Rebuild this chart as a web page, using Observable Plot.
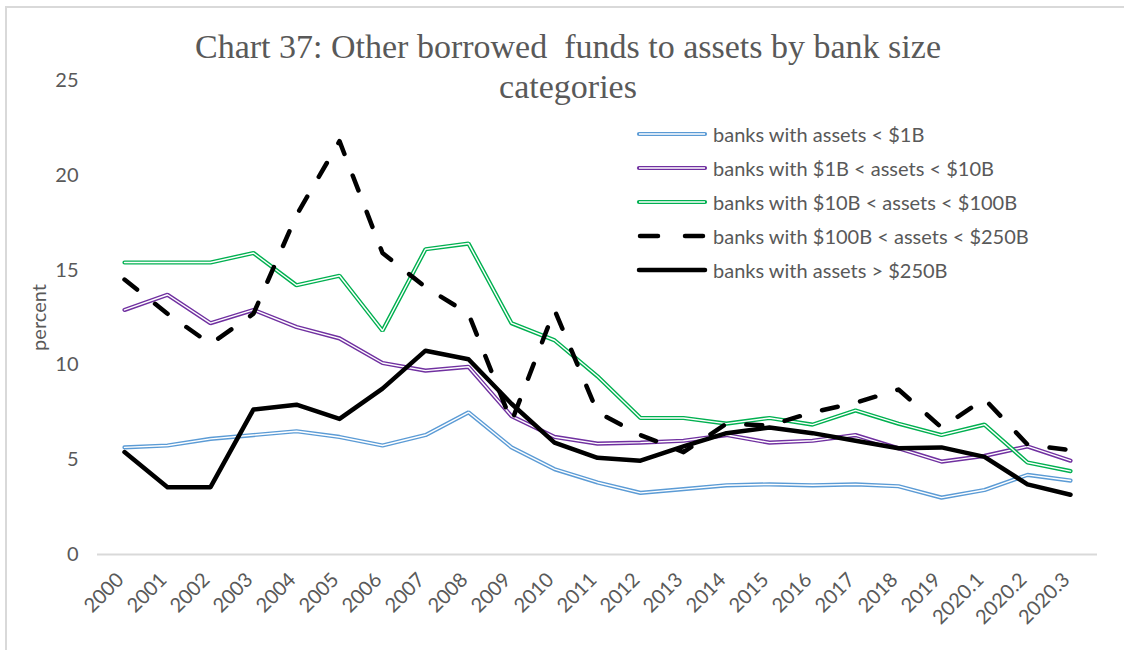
<!DOCTYPE html>
<html>
<head>
<meta charset="utf-8">
<script src="https://cdn.jsdelivr.net/npm/d3@7"></script>
<script src="https://cdn.jsdelivr.net/npm/@observablehq/plot@0.6"></script>
<style>
  html, body { margin: 0; padding: 0; background: #fff; }
  #wrap { position: relative; width: 1124px; height: 650px; overflow: hidden; }
  #frame { position: absolute; left: 5px; top: 6px; width: 1200px; height: 700px;
           border-left: 2px solid #d9d9d9; border-top: 2px solid #d9d9d9; }
  #title { position: absolute; left: 0; width: 1136px; top: 27px; text-align: center;
           font-family: "Liberation Serif", "Times New Roman", serif; font-size: 34px;
           line-height: 40px; color: #595959; white-space: pre; }
  #legend { position: absolute; left: 636px; top: 117px; font-family: Lato, "Noto Sans", sans-serif;
            font-size: 20px; color: #595959; }
  .row { height: 34px; display: flex; align-items: center; }
  .row svg { margin-right: 5px; }
  #chart { position: absolute; left: 0; top: 0; }
</style>
</head>
<body>
<div id="wrap">
  <div id="chart"></div>
  <div id="frame"></div>
  <div id="title">Chart 37: Other borrowed  funds to assets by bank size
categories</div>
  <div id="legend"></div>
</div>
<script>
const categories = ["2000","2001","2002","2003","2004","2005","2006","2007","2008","2009","2010","2011","2012","2013","2014","2015","2016","2017","2018","2019","2020.1","2020.2","2020.3"];

const seriesNames = [
  "banks with assets < $1B",
  "banks with $1B < assets < $10B",
  "banks with $10B < assets < $100B",
  "banks with $100B < assets < $250B",
  "banks with assets > $250B"
];

const under1B   = [5.65,5.75,6.1,6.3,6.5,6.2,5.75,6.3,7.5,5.65,4.5,3.8,3.25,3.45,3.65,3.7,3.65,3.7,3.6,3.0,3.4,4.2,3.9];
const b1to10    = [12.9,13.7,12.2,12.9,12.0,11.4,10.1,9.7,9.9,7.3,6.2,5.85,5.9,6.0,6.3,5.9,6.0,6.3,5.6,4.9,5.2,5.7,4.95];
const b10to100  = [15.4,15.4,15.4,15.9,14.2,14.7,11.8,16.1,16.4,12.2,11.3,9.4,7.2,7.2,6.9,7.2,6.85,7.6,6.9,6.3,6.85,4.85,4.4];
const b100to250 = [14.5,12.7,11.1,12.7,17.9,21.8,15.9,14.1,12.7,7.0,12.9,7.5,6.3,5.4,6.9,6.8,7.5,8.0,8.7,6.7,8.2,5.8,5.5];
const over250B  = [5.4,3.55,3.55,7.65,7.9,7.15,8.75,10.75,10.3,7.95,5.9,5.1,4.95,5.7,6.4,6.7,6.4,6.0,5.6,5.65,5.15,3.7,3.15];

const yTicks = [0,5,10,15,20,25];

const colors = ["#5b9bd5", "#7030a0", "#00b050", "#000000", "#000000"];
const values = [under1B, b1to10, b10to100, b100to250, over250B];

const tables = values.map((vals, i) => categories.map((c, j) => ({cat: c, value: vals[j], series: seriesNames[i]})));

const marks = [Plot.ruleY([0], {stroke: "#d9d9d9", strokeWidth: 2})];
for (let i = 0; i < 3; i++) {
  marks.push(Plot.line(tables[i], {x: "cat", y: "value", stroke: colors[i], strokeWidth: 4.2, strokeLinejoin: "miter"}));
  marks.push(Plot.line(tables[i], {x: "cat", y: "value", stroke: "#ffffff", strokeWidth: 1.4, strokeLinejoin: "miter"}));
}
marks.push(Plot.line(tables[3], {x: "cat", y: "value", stroke: colors[3], strokeWidth: 4.5, strokeDasharray: "16 23", strokeLinecap: "round"}));
marks.push(Plot.line(tables[4], {x: "cat", y: "value", stroke: colors[4], strokeWidth: 4.5, strokeLinejoin: "round"}));

marks.push(Plot.axisY({ticks: yTicks, tickSize: 0, tickPadding: 19, fontSize: 20, label: "percent", labelAnchor: "center", labelArrow: "none", labelOffset: 66}));
marks.push(Plot.axisX({tickSize: 0, tickRotate: -45, tickPadding: 22, dx: -4, fontSize: 20, label: null}));

const chart = Plot.plot({
  width: 1124,
  height: 650,
  marginLeft: 97,
  marginRight: 27,
  marginTop: 80,
  marginBottom: 96,
  x: {type: "point", domain: categories, padding: 0.5},
  y: {domain: [0, 25]},
  style: {fontFamily: "Lato, 'Noto Sans', sans-serif", fontSize: "19px", color: "#595959", background: "transparent"},
  marks
});
document.getElementById("chart").appendChild(chart);

const legend = document.getElementById("legend");
seriesNames.forEach((name, i) => {
  const row = document.createElement("div");
  row.className = "row";
  let sample;
  if (i < 3) {
    sample = `<svg width="72" height="12"><line x1="3" y1="6" x2="69" y2="6" stroke="${colors[i]}" stroke-width="4.2" stroke-linecap="round"/><line x1="3" y1="6" x2="69" y2="6" stroke="#fff" stroke-width="1.4"/></svg>`;
  } else if (i === 3) {
    sample = `<svg width="72" height="12"><line x1="4" y1="6" x2="69" y2="6" stroke="#000" stroke-width="4.5" stroke-linecap="round" stroke-dasharray="18 27"/></svg>`;
  } else {
    sample = `<svg width="72" height="12"><line x1="3" y1="6" x2="69" y2="6" stroke="#000" stroke-width="4.5" stroke-linecap="round"/></svg>`;
  }
  row.innerHTML = sample + `<span>${name.replace(/</g, "&lt;").replace(/>/g, "&gt;")}</span>`;
  legend.appendChild(row);
});
</script>
</body>
</html>
